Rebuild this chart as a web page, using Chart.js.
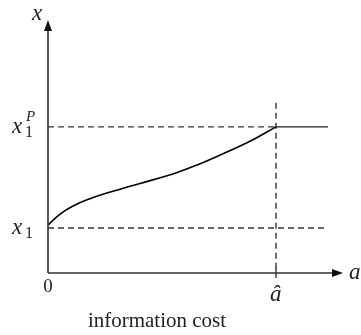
<!DOCTYPE html>
<html>
<head>
<meta charset="utf-8">
<script src="https://cdn.jsdelivr.net/npm/chart.js@4/dist/chart.umd.min.js"></script>
<style>
  html, body { margin: 0; padding: 0; background: #fff; }
  #wrap { width: 361px; height: 335px; position: relative; }
</style>
</head>
<body>
<div id="wrap"><canvas id="infoChart"></canvas></div>
<script>
// data (a = information cost, x = outcome)
const curveA = [0, 0.53, 1.10, 1.84, 2.59, 4.04, 5.48, 6.54, 7.68, 8.86, 10];
const curveX = [2.13, 2.62, 2.98, 3.30, 3.55, 3.98, 4.40, 4.80, 5.30, 5.85, 6.49];
const aHat = 10;
const aEnd = 12.28;
const x1 = 2.0;
const x1P = 6.49;
const vLineTop = 7.56;
const xMax = 12.94;
const yMax = 11.24;

const serif = '"Liberation Serif", "DejaVu Serif", serif';
const ink = '#222';

const pts = (xs, ys) => xs.map((v, i) => ({ x: v, y: ys[i] }));

// axes with arrows + math labels
const axesPlugin = {
  id: 'axesPlugin',
  afterDatasetsDraw(chart) {
    const { ctx, scales: { x, y } } = chart;
    const ox = x.getPixelForValue(0), oy = y.getPixelForValue(0);
    const xr = x.getPixelForValue(xMax), yt = y.getPixelForValue(yMax);
    ctx.save();
    ctx.strokeStyle = '#333';
    ctx.fillStyle = '#111';
    ctx.lineWidth = 1.6;
    ctx.beginPath();
    ctx.moveTo(ox, oy); ctx.lineTo(xr - 8, oy);
    ctx.moveTo(ox, oy); ctx.lineTo(ox, yt + 8);
    ctx.stroke();
    // arrow heads
    ctx.beginPath();
    ctx.moveTo(xr, oy); ctx.lineTo(xr - 11, oy - 4); ctx.lineTo(xr - 11, oy + 4); ctx.closePath();
    ctx.fill();
    ctx.beginPath();
    ctx.moveTo(ox, yt); ctx.lineTo(ox - 4, yt + 11); ctx.lineTo(ox + 4, yt + 11); ctx.closePath();
    ctx.fill();
    // tick at a-hat
    const ah = x.getPixelForValue(aHat);
    ctx.lineWidth = 1.4;
    ctx.beginPath(); ctx.moveTo(ah, oy - 5); ctx.lineTo(ah, oy + 5); ctx.stroke();

    ctx.fillStyle = ink;
    ctx.textBaseline = 'middle';
    ctx.textAlign = 'center';
    ctx.font = 'italic 23px ' + serif;
    ctx.fillText('x', ox - 11, yt - 6);
    ctx.textAlign = 'left';
    ctx.fillText('a', xr + 6, oy);
    ctx.fillText('â', ah - 6, oy + 22);
    // x1 and x1^P
    const y1 = y.getPixelForValue(x1), yP = y.getPixelForValue(x1P);
    ctx.fillText('x', 12, y1);
    ctx.fillText('x', 12, yP);
    ctx.font = '16px ' + serif;
    ctx.fillText('1', 25, y1 + 6);
    ctx.fillText('1', 25, yP + 6);
    ctx.font = 'italic 15px ' + serif;
    ctx.fillText('P', 26, yP - 10);
    ctx.font = '19px ' + serif;
    ctx.textAlign = 'center';
    ctx.fillText('0', ox, oy + 14);
    ctx.font = '21px ' + serif;
    ctx.fillText('information cost', 157, 321);
    ctx.restore();
  }
};

const dash = [6, 4];

new Chart(document.getElementById('infoChart'), {
  type: 'scatter',
  data: {
    datasets: [
      {
        data: pts(curveA, curveX),
        showLine: true,
        borderColor: '#000',
        borderWidth: 1.6,
        pointRadius: 0,
        tension: 0.4
      },
      {
        data: pts([aHat, aEnd], [x1P, x1P]),
        showLine: true,
        borderColor: '#222',
        borderWidth: 1.4,
        pointRadius: 0
      },
      {
        data: pts([0, aHat], [x1P, x1P]),
        showLine: true,
        borderColor: '#333',
        borderWidth: 1.4,
        borderDash: dash,
        pointRadius: 0
      },
      {
        data: pts([0, aEnd], [x1, x1]),
        showLine: true,
        borderColor: '#333',
        borderWidth: 1.4,
        borderDash: dash,
        pointRadius: 0
      },
      {
        data: pts([aHat, aHat], [vLineTop, 0]),
        showLine: true,
        borderColor: '#333',
        borderWidth: 1.4,
        borderDash: dash,
        pointRadius: 0
      }
    ]
  },
  options: {
    responsive: true,
    maintainAspectRatio: false,
    animation: false,
    layout: { padding: { left: 48, right: 18, top: 20, bottom: 62 } },
    plugins: { legend: { display: false }, tooltip: { enabled: false } },
    scales: {
      x: { type: 'linear', min: 0, max: xMax, display: false },
      y: { type: 'linear', min: 0, max: yMax, display: false }
    }
  },
  plugins: [axesPlugin]
});
</script>
</body>
</html>
